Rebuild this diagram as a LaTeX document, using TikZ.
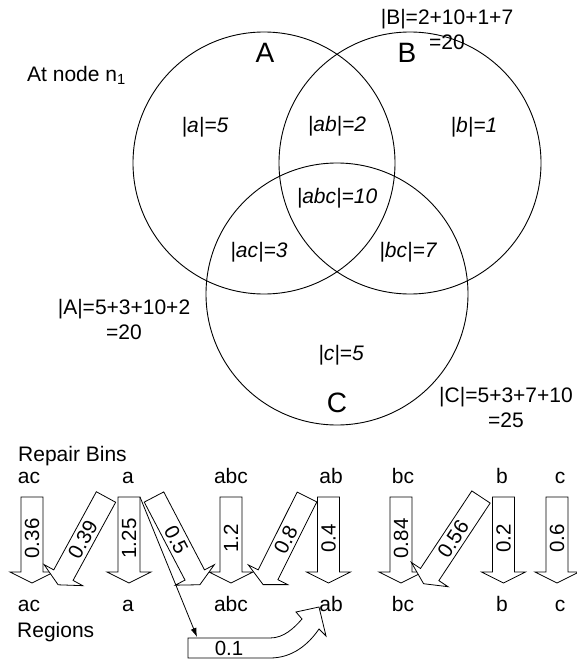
\documentclass[tikz,border=0pt]{standalone}
\usepackage{fontspec}
\setmainfont{Liberation Sans}
\usetikzlibrary{arrows.meta}
\tikzset{
  venn/.style={circle, draw=black, line width=0.9pt, minimum size=262pt, inner sep=0pt},
  barrow/.style={draw=black, fill=white, line width=0.8pt, line join=miter},
  lbl/.style={font=\fontsize{21}{25}\selectfont, inner sep=0pt},
  albl/.style={font=\fontsize{20.5}{25}\selectfont, inner sep=0pt},
  lblbig/.style={font=\fontsize{28}{30}\selectfont, inner sep=0pt},
  reg/.style={font=\fontsize{21}{25}\selectfont\itshape, inner sep=0pt},
  thin/.style={line width=0.8pt, -{Latex[length=9pt,width=6pt]}}
}
\newcommand\blockarr[7]{%
  \begin{scope}[shift={(#2,#3)},rotate=#4]
    \draw[barrow] (-11,0) -- (11,0) -- (11,{#5-11}) -- (22,{#5-11}) -- (0,#5) -- (-22,{#5-11}) -- (-11,{#5-11}) -- cycle;
    \node[albl,rotate=#7] (#1) at (0,{(#5-11)/2+4}) {#6};
  \end{scope}}
\begin{document}
\begin{tikzpicture}[x=1pt,y=-1pt]
\useasboundingbox (0,0) rectangle (576,661);
% Venn circles
\node[venn] (cA) at (264,163) {};
\node[venn] (cB) at (410,163) {};
\node[venn] (cC) at (337,294) {};
\node[lblbig] (tA) at (265,53) {A};
\node[lblbig] (tB) at (407,53) {B};
\node[lblbig] (tC) at (337,403) {C};
\node[lbl, anchor=west] (atnode) at (27,75) {At node n\textsubscript{1}};
\node[lbl, align=center] (Bsum) at (447,29) {|B|=2+10+1+7\\=20};
\node[lbl, align=center] (Asum) at (124,319) {|A|=5+3+10+2\\=20};
\node[lbl, align=center] (Csum) at (506,407) {|C|=5+3+7+10\\=25};
% region counts
\node[reg] (ra) at (205,127) {|a|=5};
\node[reg] (rab) at (337,126) {|ab|=2};
\node[reg] (rb) at (474,127) {|b|=1};
\node[reg] (rabc) at (337,198) {|abc|=10};
\node[reg] (rac) at (259,252) {|ac|=3};
\node[reg] (rbc) at (408,252) {|bc|=7};
\node[reg] (rc) at (341,355) {|c|=5};
% bottom part
\node[lbl, anchor=base west] (bins) at (18,461) {Repair Bins};
\node[lbl, anchor=base west] (regions) at (17,637) {Regions};
\foreach \nm/\xx in {ac/29, a/128, abc/231, ab/331, bc/403, b/502, c/560}{
  \node[lbl, anchor=base] (top-\nm) at (\xx,483) {\nm};
  \node[lbl, anchor=base] (bot-\nm) at (\xx,611) {\nm};
}
% vertical block arrows
\blockarr{v1}{32}{497}{0}{86}{0.36}{90}
\blockarr{v2}{129}{497}{0}{86}{1.25}{90}
\blockarr{v3}{231}{497}{0}{86}{1.2}{90}
\blockarr{v4}{328.5}{497}{0}{86}{0.4}{90}
\blockarr{v5}{401}{497}{0}{86}{0.84}{90}
\blockarr{v6}{503.5}{497}{0}{86}{0.2}{90}
\blockarr{v7}{557}{497}{0}{86}{0.6}{90}
% diagonal block arrows
\blockarr{d1}{106}{497}{-28.6}{100}{0.39}{61.4}
\blockarr{d2}{154}{497}{27.6}{99}{0.5}{-62.4}
\blockarr{d3}{307}{497}{-26.6}{98}{0.8}{63.4}
\blockarr{d4}{481}{497}{-33.5}{104}{0.56}{56.5}
% curved block arrow 0.1
\draw[barrow] (188,638) -- (270,638) .. controls (284,638) and (294,628) .. (302,619)
  -- (296,612) -- (319,607) -- (326,636) -- (319,629)
  .. controls (308,645) and (292,658) .. (270,658) -- (188,658) -- cycle;
\node[albl] (v01) at (229,648) {0.1};
% thin arrow
\coordinate (aTR) at (140,497);
\coordinate (boxTL) at (197,637);
\draw[thin] (aTR) -- (boxTL);
\end{tikzpicture}
\end{document}
